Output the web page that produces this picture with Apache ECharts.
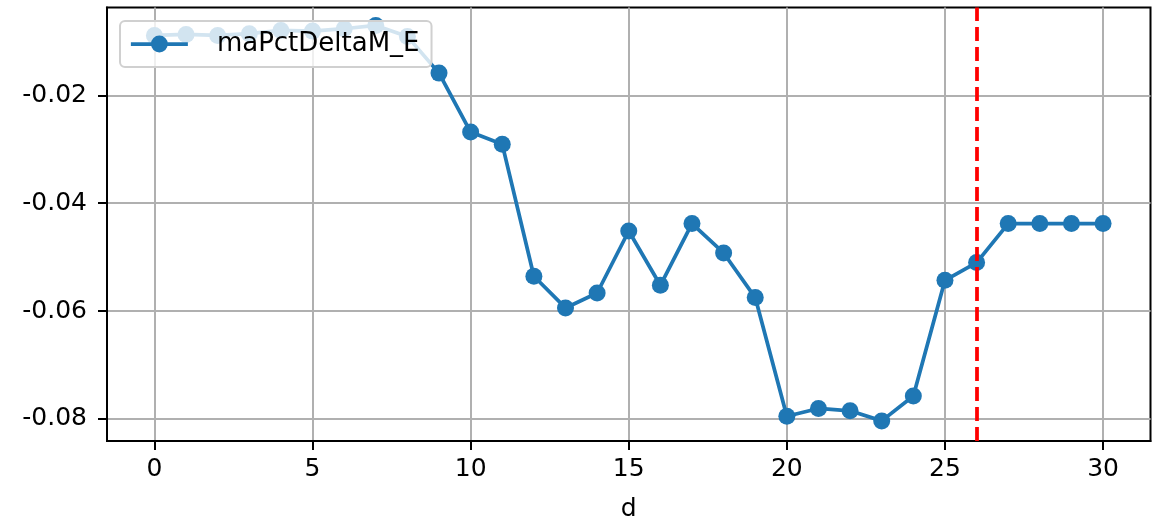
<!DOCTYPE html>
<html>
<head>
<meta charset="utf-8">
<script src="https://cdn.jsdelivr.net/npm/echarts@6/dist/echarts.min.js"></script>
<style>
html,body{margin:0;padding:0;background:#fff;}
#chart{width:1152px;height:520px;}
</style>
</head>
<body>
<div id="chart"></div>
<script>
const days = [0,1,2,3,4,5,6,7,8,9,10,11,12,13,14,15,16,17,18,19,20,21,22,23,24,25,26,27,28,29,30];
const maPctDeltaM_E = [-0.00888,-0.00869,-0.00888,-0.00856,-0.00795,-0.00808,-0.00764,-0.00702,-0.00906,-0.01587,
  -0.0268,-0.02908,-0.05355,-0.05942,-0.05665,-0.04515,-0.05522,-0.04378,-0.04923,-0.0575,
  -0.0795,-0.07807,-0.0785,-0.08037,-0.07574,-0.05429,-0.05101,-0.04378,-0.04378,-0.04378,-0.04378];
const xTicks = [0,5,10,15,20,25,30];
const yTicks = [-0.08,-0.06,-0.04,-0.02];
const vlineX = 26;
const seriesName = 'maPctDeltaM_E';
const xName = 'd';

const chart = echarts.init(document.getElementById('chart'), null, {renderer:'canvas'});
const font = 'DejaVu Sans';
chart.setOption({
  animation:false,
  backgroundColor:'#ffffff',
  grid:{left:107, right:1.5, top:7.5, bottom:79, outerBoundsMode:'none', containLabel:false,
    show:true, borderColor:'#000', borderWidth:2, backgroundColor:'transparent'},
  legend:{
    left:120, top:21, orient:'vertical',
    data:[seriesName],
    itemWidth:57, itemHeight:21,
    padding:[10,12,10,9],
    backgroundColor:'rgba(255,255,255,0.8)',
    borderColor:'#d0d0d0', borderWidth:2, borderRadius:5,
    lineStyle:{width:3.75},
    textStyle:{fontFamily:font, fontSize:26, color:'#000', padding:[0,0,0,24]}
  },
  xAxis:{
    type:'value', min:-1.5, max:31.5,
    name:xName, nameLocation:'middle', nameGap:56,
    nameTextStyle:{fontFamily:font, fontSize:25, color:'#000'},
    axisLine:{show:true, onZero:false, lineStyle:{color:'#000', width:2}},
    axisTick:{show:true, length:9, customValues:xTicks, lineStyle:{color:'#000', width:2}},
    axisLabel:{customValues:xTicks, fontFamily:font, fontSize:25, color:'#000', margin:16},
    splitLine:{show:true, lineStyle:{color:'#b0b0b0', width:2}}
  },
  yAxis:{
    type:'value', min:-0.0841, max:-0.0037,
    axisLine:{show:true, onZero:false, lineStyle:{color:'#000', width:2}},
    axisTick:{show:true, length:9, customValues:yTicks, lineStyle:{color:'#000', width:2}},
    axisLabel:{customValues:yTicks, fontFamily:font, fontSize:25, color:'#000', margin:20,
      formatter:v=>v.toFixed(2)},
    splitLine:{show:true, lineStyle:{color:'#b0b0b0', width:2}}
  },
  series:[
    {
      name:seriesName, type:'line', z:3,
      data:days.map((d,i)=>[d, maPctDeltaM_E[i]]),
      symbol:'circle', symbolSize:17, showSymbol:true,
      lineStyle:{color:'#1f77b4', width:3.75},
      itemStyle:{color:'#1f77b4'},
      emphasis:{disabled:true}
    },
    {
      name:'vline', type:'line', data:[], z:4,
      markLine:{
        silent:true, symbol:['none','none'], label:{show:false},
        lineStyle:{color:'#ff0000', width:3.75, type:[14,6]},
        emphasis:{disabled:true},
        data:[{xAxis:vlineX}]
      }
    }
  ]
});
</script>
</body>
</html>
